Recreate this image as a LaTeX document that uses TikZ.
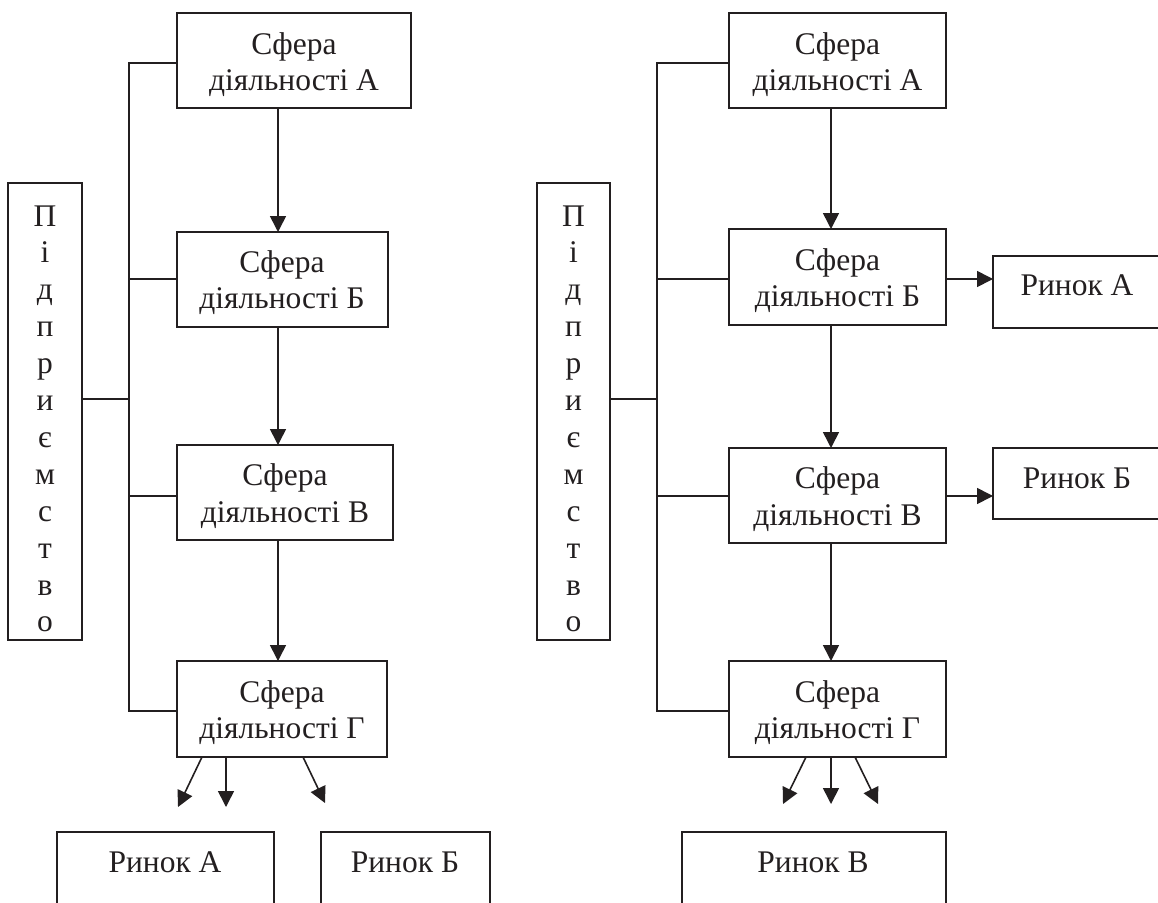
\documentclass[tikz,border=0pt]{standalone}
\usepackage{fontspec}
\setmainfont{Liberation Serif}
\usetikzlibrary{arrows.meta,calc}
\definecolor{ink}{RGB}{35,31,32}
\tikzset{
  box/.style={draw=ink, line width=1.6pt, inner sep=0pt, outer sep=0pt, rectangle},
  txt/.style={font=\fontsize{31.5}{36}\selectfont, inner sep=0pt, outer sep=0pt, text=ink},
  conn/.style={draw=ink, line width=1.6pt},
  arr/.style={draw=ink, line width=1.6pt, -{Triangle[length=16pt,width=16pt]}}
}
\begin{document}
\begin{tikzpicture}[x=1pt,y=-1pt]
\useasboundingbox (0,0) rectangle (1158,902);
\clip (0,0) rectangle (1158,902);
\fill[white] (0,0) rectangle (1158,902);

% ===== LEFT DIAGRAM =====
\node[box, minimum width=74pt, minimum height=457pt] (LP) at (45,411.5) {};
\foreach \c [count=\i from 0] in {П,і,д,п,р,и,є,м,с,т,в,о}
  \node[txt, anchor=base] (lp\i) at (45,{226+36.9*\i}) {\c};

\node[box, minimum width=234pt, minimum height=95pt] (A1) at (294,60.5) {};
\node[txt, anchor=base] (A1t1) at (294,54) {Сфера};
\node[txt, anchor=base] (A1t2) at (294,90) {діяльності А};

\node[box, minimum width=211pt, minimum height=95pt] (B1) at (282.5,279.5) {};
\node[txt, anchor=base] (B1t1) at (282,272) {Сфера};
\node[txt, anchor=base] (B1t2) at (282,308) {діяльності Б};

\node[box, minimum width=216pt, minimum height=95pt] (V1) at (285,492.5) {};
\node[txt, anchor=base] (V1t1) at (285,485) {Сфера};
\node[txt, anchor=base] (V1t2) at (285,522) {діяльності В};

\node[box, minimum width=210pt, minimum height=96pt] (G1) at (282,709) {};
\node[txt, anchor=base] (G1t1) at (282,702) {Сфера};
\node[txt, anchor=base] (G1t2) at (282,738) {діяльності Г};

\node[box, minimum width=217pt, minimum height=130pt] (RA1) at (165.5,897) {};
\node[txt, anchor=base] (RA1t) at (165,872) {Ринок А};
\node[box, minimum width=169pt, minimum height=130pt] (RB1) at (405.5,897) {};
\node[txt, anchor=base] (RB1t) at (405,872) {Ринок Б};

% bus
\coordinate (bLA) at (129,63);
\coordinate (bLB) at (129,279);
\coordinate (bLV) at (129,496);
\coordinate (bLG) at (129,711);
\coordinate (bLP) at (129,399);
\draw[conn] (A1.west |- bLA) -- (bLA) -- (bLG) -- (G1.west |- bLG);
\draw[conn] (bLB) -- (B1.west |- bLB);
\draw[conn] (bLV) -- (V1.west |- bLV);
\draw[conn] (LP.east |- bLP) -- (bLP);

\coordinate (axL) at (278,0);
\draw[arr] (A1.south -| axL) -- (B1.north -| axL);
\draw[arr] (B1.south -| axL) -- (V1.north -| axL);
\draw[arr] (V1.south -| axL) -- (G1.north -| axL);

\coordinate (gL1) at (178,807);
\coordinate (gL2) at (226,807);
\coordinate (gL3) at (325,803);
\draw[arr] ($(G1.south west)+(25,0)$) -- (gL1);
\draw[arr] ($(G1.south west)+(49,0)$) -- (gL2);
\draw[arr] ($(G1.south west)+(126,0)$) -- (gL3);

% ===== RIGHT DIAGRAM =====
\node[box, minimum width=73pt, minimum height=457pt] (RP) at (573.5,411.5) {};
\foreach \c [count=\i from 0] in {П,і,д,п,р,и,є,м,с,т,в,о}
  \node[txt, anchor=base] (rp\i) at (573.5,{226+36.9*\i}) {\c};

\node[box, minimum width=217pt, minimum height=95pt] (A2) at (837.5,60.5) {};
\node[txt, anchor=base] (A2t1) at (837.5,54) {Сфера};
\node[txt, anchor=base] (A2t2) at (837.5,90) {діяльності А};

\node[box, minimum width=217pt, minimum height=96pt] (B2) at (837.5,277) {};
\node[txt, anchor=base] (B2t1) at (837.5,270) {Сфера};
\node[txt, anchor=base] (B2t2) at (837.5,306) {діяльності Б};

\node[box, minimum width=217pt, minimum height=95pt] (V2) at (837.5,495.5) {};
\node[txt, anchor=base] (V2t1) at (837.5,488) {Сфера};
\node[txt, anchor=base] (V2t2) at (837.5,525) {діяльності В};

\node[box, minimum width=217pt, minimum height=96pt] (G2) at (837.5,709) {};
\node[txt, anchor=base] (G2t1) at (837.5,702) {Сфера};
\node[txt, anchor=base] (G2t2) at (837.5,738) {діяльності Г};

\node[box, minimum width=220pt, minimum height=72pt] (RA2) at (1103,292) {};
\node[txt, anchor=base] (RA2t) at (1077,295) {Ринок А};
\node[box, minimum width=220pt, minimum height=71pt] (RB2) at (1103,483.5) {};
\node[txt, anchor=base] (RB2t) at (1077,488) {Ринок Б};

\node[box, minimum width=264pt, minimum height=130pt] (RV2) at (814,897) {};
\node[txt, anchor=base] (RV2t) at (813,872) {Ринок В};

\coordinate (bRA) at (657,63);
\coordinate (bRB) at (657,279);
\coordinate (bRV) at (657,496);
\coordinate (bRG) at (657,711);
\coordinate (bRP) at (657,399);
\draw[conn] (A2.west |- bRA) -- (bRA) -- (bRG) -- (G2.west |- bRG);
\draw[conn] (bRB) -- (B2.west |- bRB);
\draw[conn] (bRV) -- (V2.west |- bRV);
\draw[conn] (RP.east |- bRP) -- (bRP);

\coordinate (axR) at (831,0);
\draw[arr] (A2.south -| axR) -- (B2.north -| axR);
\draw[arr] (B2.south -| axR) -- (V2.north -| axR);
\draw[arr] (V2.south -| axR) -- (G2.north -| axR);

\draw[arr] (B2.east |- bRB) -- (RA2.west |- bRB);
\draw[arr] (V2.east |- bRV) -- (RB2.west |- bRV);

\coordinate (gR1) at (783,804);
\coordinate (gR2) at (831,804);
\coordinate (gR3) at (878,804);
\draw[arr] ($(G2.south west)+(77,0)$) -- (gR1);
\draw[arr] ($(G2.south west)+(102,0)$) -- (gR2);
\draw[arr] ($(G2.south west)+(126,0)$) -- (gR3);
\end{tikzpicture}
\end{document}
